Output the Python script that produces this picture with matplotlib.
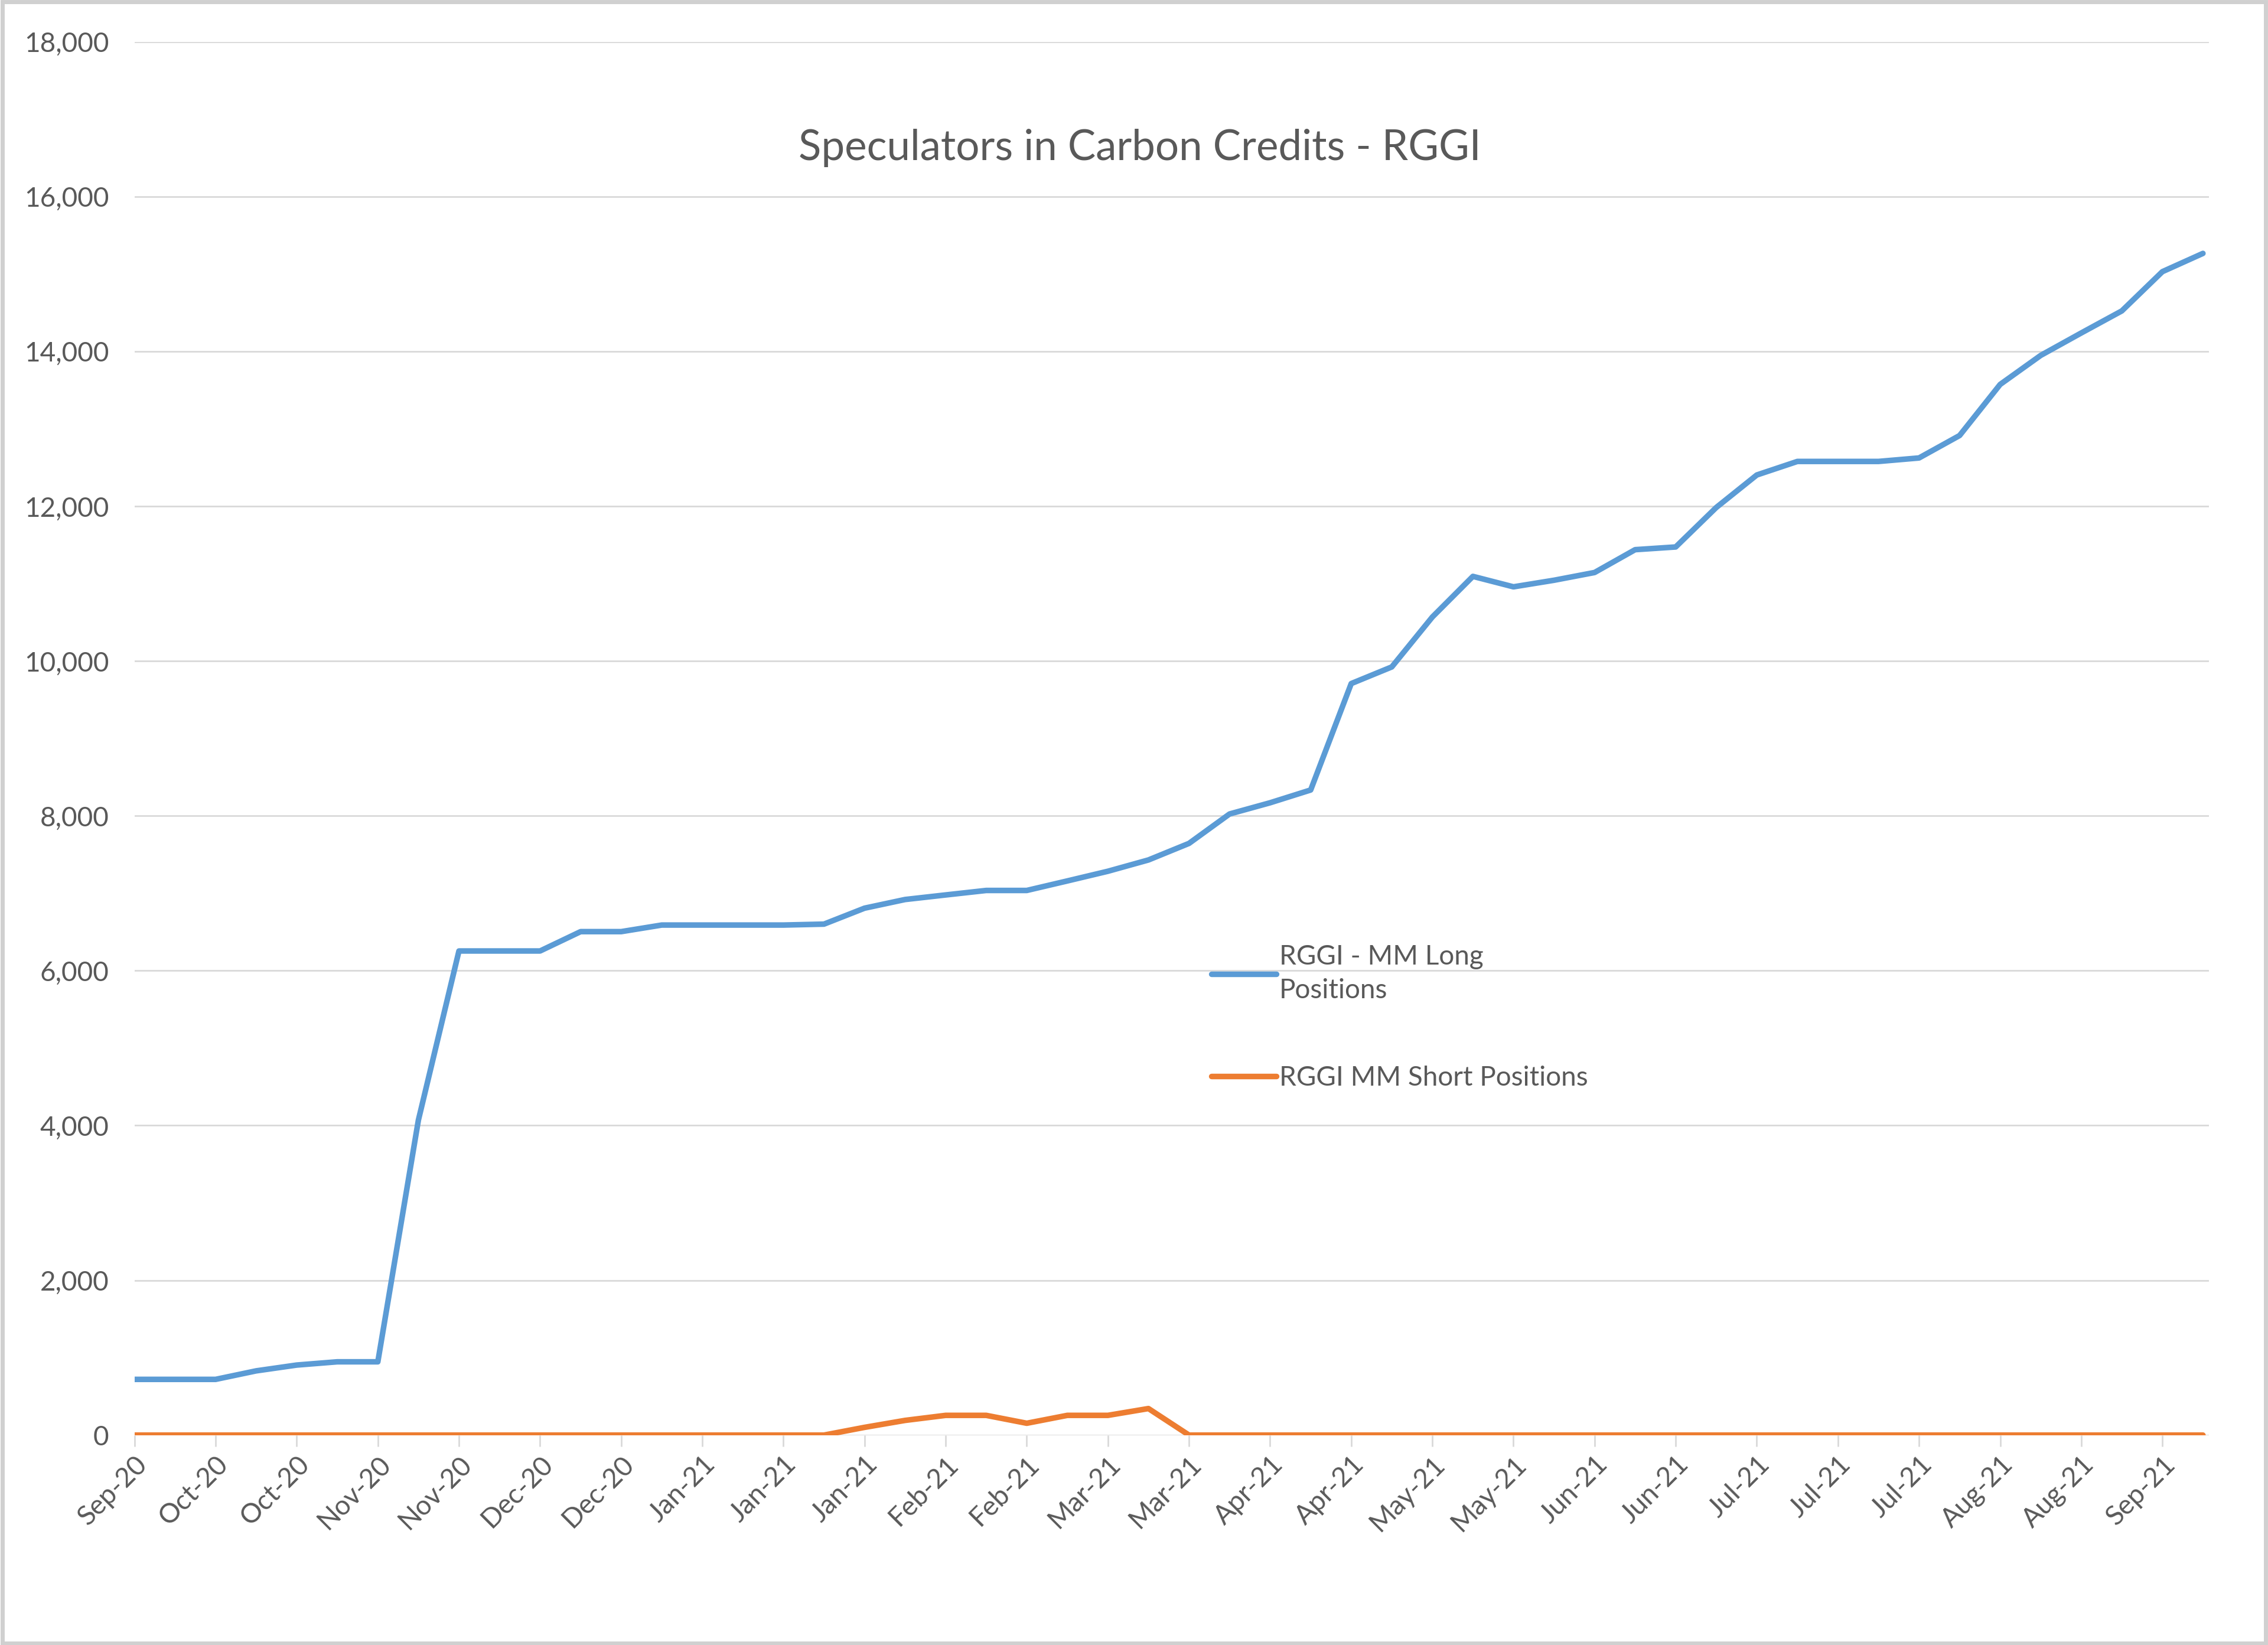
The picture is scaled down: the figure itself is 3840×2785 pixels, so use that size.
import numpy as np
import matplotlib.pyplot as plt
from matplotlib.patches import Rectangle

# Dados - pontos semanais
long_positions = [
    720, 720, 720, 830, 905, 947, 947, 4070, 6255, 6255,
    6255, 6505, 6505, 6590, 6590, 6590, 6590, 6602, 6808, 6920,
    6979, 7037, 7037, 7160, 7285, 7431, 7645, 8025, 8170, 8335,
    9710, 9925, 10570, 11095, 10960, 11045, 11145, 11440, 11475, 11985,
    12405, 12580, 12580, 12580, 12625, 12915, 13575, 13950, 14240, 14525,
    15032, 15268,
]
short_positions = [
    0, 0, 0, 0, 0, 0, 0, 0, 0, 0,
    0, 0, 0, 0, 0, 0, 0, 0, 100, 190,
    255, 255, 153, 255, 255, 343, 0, 0, 0, 0,
    0, 0, 0, 0, 0, 0, 0, 0, 0, 0,
    0, 0, 0, 0, 0, 0, 0, 0, 0, 0,
    0, 0,
]
tick_labels = [
    "Sep-20", "Oct-20", "Oct-20", "Nov-20", "Nov-20", "Dec-20", "Dec-20",
    "Jan-21", "Jan-21", "Jan-21", "Feb-21", "Feb-21", "Mar-21", "Mar-21",
    "Apr-21", "Apr-21", "May-21", "May-21", "Jun-21", "Jun-21",
    "Jul-21", "Jul-21", "Jul-21", "Aug-21", "Aug-21", "Sep-21",
]

plt.rcParams['font.family'] = ['Lato', 'DejaVu Sans']
cor_texto = '#595959'
cor_grade = '#d9d9d9'

fig = plt.figure(figsize=(38.4, 27.85), dpi=100)
ax = fig.add_axes([0.0593, 0.1276, 0.9147, 0.8469])

x = np.arange(len(long_positions))
ax.plot(x, long_positions, color='#5B9BD5', lw=6.8, label="RGGI - MM Long\nPositions",
        solid_joinstyle='round', solid_capstyle='round', zorder=3)
ax.plot(x, short_positions, color='#ED7D31', lw=6.8, label="RGGI MM Short Positions",
        solid_joinstyle='round', solid_capstyle='round', zorder=3)

ax.set_xlim(0, len(long_positions) - 0.85)
ax.set_ylim(0, 18000)
ax.set_yticks(np.arange(0, 18001, 2000))
ax.yaxis.set_major_formatter(plt.FuncFormatter(lambda v, p: f"{int(v):,}"))
ax.grid(axis='y', color=cor_grade, lw=2.0, zorder=0)
ax.set_axisbelow(True)
for s in ax.spines.values():
    s.set_visible(False)

ax.set_xticks(x[::2])
ax.set_xticklabels(tick_labels, rotation=45, ha='right', rotation_mode='anchor')
ax.tick_params(axis='x', colors=cor_grade, length=14, width=2, pad=6,
               labelsize=33, labelcolor=cor_texto)
ax.tick_params(axis='y', length=0, pad=31, labelsize=33, labelcolor=cor_texto)

fig.text(0.5026, 0.910, "Speculators in Carbon Credits - RGGI", ha='center', va='center',
         fontsize=51, color=cor_texto)

leg = ax.legend(loc='upper left', bbox_to_anchor=(0.514, 0.360), frameon=False,
                fontsize=33, handlelength=2.4, handletextpad=0.1, labelspacing=2.3,
                borderaxespad=0)
for t in leg.get_texts():
    t.set_color(cor_texto)
    t.set_linespacing(1.45)

fig.patches.append(Rectangle((0.001, 0.001), 0.998, 0.998, transform=fig.transFigure,
                             fill=False, edgecolor='#d0d0d0', lw=5))

fig.savefig("out.png", dpi=100)
